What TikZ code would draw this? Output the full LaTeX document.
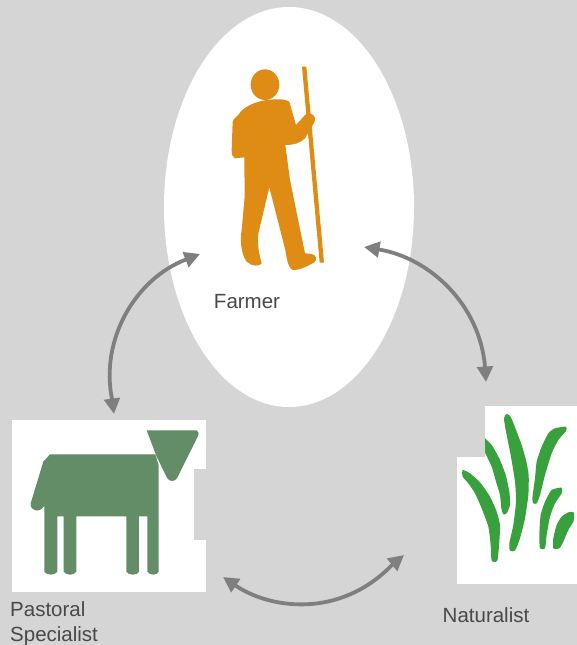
\documentclass[tikz,border=0pt]{standalone}
\usepackage{fontspec}
\setmainfont{Liberation Sans}
\usetikzlibrary{arrows.meta,shapes.geometric}
\definecolor{bgc}{HTML}{D5D5D5}
\definecolor{manc}{HTML}{DE8C14}
\definecolor{cowc}{HTML}{628D66}
\definecolor{grassc}{HTML}{38A03C}
\definecolor{linkc}{HTML}{7F7F7F}
\definecolor{textc}{HTML}{484848}
\tikzset{
  lab/.style={font=\fontsize{20.5}{25}\selectfont,text=textc,inner sep=0pt,align=left},
  link/.style={draw=linkc,line width=3.8pt,{Triangle[length=15.5pt,width=15.5pt]}-{Triangle[length=15.5pt,width=15.5pt]}},
  panel/.style={fill=white,draw=none},
  blade/.style={fill=grassc,draw=none}
}
\begin{document}
\begin{tikzpicture}[x=1pt,y=-1pt]
\useasboundingbox (0,0) rectangle (577,645);
\fill[bgc] (0,0) rectangle (577,645);
% Farmer oval
\node[panel,ellipse,minimum width=250pt,minimum height=400pt,inner sep=0pt] (oval) at (289,207) {};
% Panels
\fill[white] (12,420) rectangle (206,592);
\fill[bgc] (194,469) rectangle (206,540);
\fill[white] (485,406) rectangle (577,584);
\fill[white] (457,457) rectangle (485,584);
% Farmer figure
\begin{scope}[shift={(210,50)},x=0.3333pt,y=-0.3333pt]
\fill[manc] (165,104) ellipse [x radius=43*0.3333pt,y radius=46*0.3333pt];
\fill[manc] (276,50) -- (289,50) -- (342,638) -- (329,638) -- cycle;
\fill[manc] (170,150) .. controls (200,147) and (225,146) .. (238,155)
  -- (258,225) -- (288,192) .. controls (305,185) and (320,200) .. (314,215)
  -- (285,265) .. controls (270,280) and (250,285) .. (226,285)
  -- (240,390) -- (285,610) -- (305,612) .. controls (320,615) and (322,630) .. (312,638)
  .. controls (290,650) and (265,662) .. (248,660) .. controls (238,655) and (232,640) .. (226,600)
  -- (178,412) -- (145,550) .. controls (140,590) and (150,620) .. (155,640)
  .. controls (150,650) and (125,650) .. (110,635) .. controls (92,610) and (90,570) .. (95,540)
  -- (104,440) -- (103,322) -- (75,325) .. controls (68,322) and (65,315) .. (65,300)
  -- (68,215) .. controls (70,203) and (85,200) .. (92,185) .. controls (105,170) and (135,155) .. (170,150) -- cycle;
\end{scope}
% Cow
\begin{scope}[shift={(0,410)},x=0.3333pt,y=-0.3333pt]
\fill[cowc] (440,61) -- (590,61) .. controls (598,64) and (597,72) .. (592,82)
  -- (532,203) .. controls (525,216) and (510,216) .. (502,205)
  -- (470,140) -- cycle;
\fill[cowc] (150,133) -- (466,133) -- (476,165) -- (476,485)
  .. controls (470,497) and (450,497) .. (442,485) -- (442,319) -- (417,319) -- (417,485)
  .. controls (412,497) and (385,497) .. (379,485) -- (379,319) -- (229,319) -- (229,485)
  .. controls (222,497) and (198,497) .. (191,485) -- (191,319) -- (172,319) -- (172,485)
  .. controls (165,497) and (140,497) .. (133,485) -- (133,287)
  .. controls (120,310) and (90,305) .. (92,280) -- (130,155) -- cycle;
\end{scope}
% Grass
\begin{scope}[shift={(440,395)},x=0.3333pt,y=-0.3333pt]
\fill[blade] plot[smooth cycle,tension=0.35] coordinates {(68,225) (90,235) (120,262) (150,305) (170,350) (180,390) (178,440) (172,497) (155,497) (152,450) (145,395) (125,340) (105,295) (85,265) (68,245)};
\begin{scope}
\clip (135,100) rectangle (300,400);
\fill[blade] plot[smooth cycle,tension=0.35] coordinates {(125,122) (155,150) (180,195) (197,240) (208,290) (210,330) (200,355) (190,358) (184,340) (180,300) (168,260) (155,215) (125,150)};
\end{scope}
\fill[blade] plot[smooth cycle,tension=0.35] coordinates {(192,70) (200,57) (212,65) (228,105) (245,150) (258,195) (266,240) (265,300) (255,370) (240,430) (225,467) (210,467) (208,445) (220,390) (228,320) (225,260) (212,180) (198,110)};
\fill[blade] plot[smooth cycle,tension=0.35] coordinates {(345,100) (378,95) (378,108) (355,135) (335,175) (315,240) (300,300) (290,325) (280,325) (277,310) (285,250) (290,200) (305,155) (325,115)};
\fill[blade] plot[smooth cycle,tension=0.35] coordinates {(335,285) (365,278) (365,295) (345,325) (330,365) (320,420) (315,460) (300,460) (298,420) (302,360) (315,320)};
\fill[blade] plot[smooth cycle,tension=0.35] coordinates {(365,365) (385,352) (401,352) (401,378) (385,405) (370,440) (358,460) (340,460) (340,430) (350,390)};
\end{scope}
% Labels
\node[lab,anchor=center] (farmer) at (247,302) {Farmer};
\node[lab,anchor=north west] (pastoral) at (10,601) {Pastoral\\Specialist};
\node[lab,anchor=center] (naturalist) at (486,615) {Naturalist};
% Connector ends and the points where the heads meet the curves
\coordinate (fa) at (200,254);
\coordinate (fas) at (186,259.5);
\coordinate (pa) at (114,414);
\coordinate (pas) at (112,399);
\coordinate (fb) at (364,247);
\coordinate (fbs) at (379,249.5);
\coordinate (nb) at (486,382);
\coordinate (nbs) at (485,367);
\coordinate (pc) at (223,577);
\coordinate (pcs) at (235.5,585.5);
\coordinate (nc) at (404,555);
\coordinate (ncs) at (392.5,564.5);
\draw[link] (fa) -- (fas) .. controls (135,279) and (100,340) .. (pas) -- (pa);
\draw[link] (fb) -- (fbs) .. controls (430,258) and (480,305) .. (nbs) -- (nb);
\draw[link] (pc) -- (pcs) .. controls (270,609) and (340,619) .. (ncs) -- (nc);
\end{tikzpicture}
\end{document}
